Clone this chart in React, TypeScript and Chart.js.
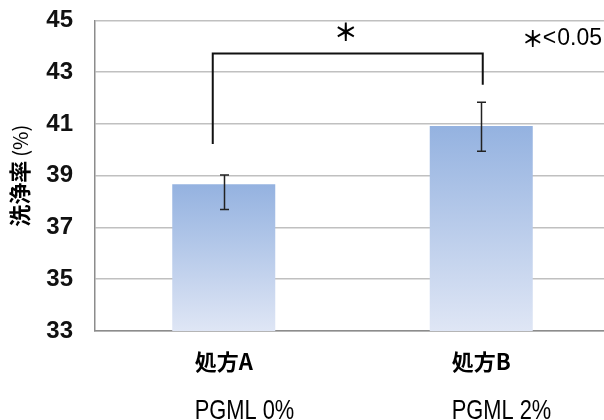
import React, { useEffect, useRef } from "react";
import { Chart, registerables } from "chart.js";

Chart.register(...registerables);

// ---- data ----
const categories = ["処方A", "処方B"];
const subLabels = ["PGML 0%", "PGML 2%"];
const values = [38.67, 40.92];
const errLow = [37.69, 39.94];
const errHigh = [39.03, 41.84];
const yMin = 33;
const yMax = 45;
const yStep = 2;
const axisTitle = "洗浄率";
const axisUnit = "(%)";
const sigMark = "＊";
const noteMark = "＊";
const noteOp = "<";
const noteValue = "0.05";
// bracket values (y-axis units)
const bracketTop = 43.72;
const bracketLeftBottom = 40.22;
const bracketRightBottom = 42.51;

const CJK = '"Noto Sans CJK JP", sans-serif';
const LAT = '"Liberation Sans", Arial, sans-serif';

const overlay = {
  id: "overlay",
  afterDatasetsDraw(chart: any) {
    const ctx = chart.ctx as CanvasRenderingContext2D;
    const xs = chart.scales.x;
    const ys = chart.scales.y;
    const area = chart.chartArea;
    ctx.save();
    // error bars
    ctx.strokeStyle = "#222";
    ctx.lineWidth = 1.5;
    values.forEach((_, i) => {
      const x = Math.round(xs.getPixelForValue(i)) + 0.5;
      const yt = ys.getPixelForValue(errHigh[i]);
      const yb = ys.getPixelForValue(errLow[i]);
      ctx.beginPath();
      ctx.moveTo(x, yt);
      ctx.lineTo(x, yb);
      ctx.moveTo(x - 4.5, yt);
      ctx.lineTo(x + 4.5, yt);
      ctx.moveTo(x - 4.5, yb);
      ctx.lineTo(x + 4.5, yb);
      ctx.stroke();
    });
    // bracket
    const xl = xs.getPixelForValue(0) - 11;
    const xr = xs.getPixelForValue(1) + 1.5;
    const yT = ys.getPixelForValue(bracketTop);
    ctx.strokeStyle = "#111";
    ctx.lineWidth = 2;
    ctx.beginPath();
    ctx.moveTo(xl, ys.getPixelForValue(bracketLeftBottom));
    ctx.lineTo(xl, yT);
    ctx.lineTo(xr, yT);
    ctx.lineTo(xr, ys.getPixelForValue(bracketRightBottom));
    ctx.stroke();
    // significance star
    ctx.fillStyle = "#000";
    ctx.font = `bold 24px ${CJK}`;
    ctx.textAlign = "center";
    ctx.textBaseline = "middle";
    ctx.fillText(sigMark, (xl + xr) / 2 - 2, yT - 22);
    // note: ＊<0.05 (right aligned, just above chart top)
    ctx.textAlign = "right";
    ctx.textBaseline = "alphabetic";
    let nx = 602;
    const nb = area.top + 25;
    ctx.font = `23px ${LAT}`;
    ctx.fillText(noteValue, nx, nb);
    nx -= ctx.measureText(noteValue).width + 1;
    ctx.fillText(noteOp, nx, nb);
    nx -= ctx.measureText(noteOp).width + 2;
    ctx.font = `bold 22px ${CJK}`;
    ctx.textBaseline = "middle";
    ctx.textAlign = "center";
    ctx.fillText(noteMark, nx - 8, area.top + 18);
    // y title
    ctx.save();
    ctx.translate(20, (area.top + area.bottom) / 2);
    ctx.rotate(-Math.PI / 2);
    ctx.textBaseline = "middle";
    ctx.font = `bold 22px ${CJK}`;
    const w1 = ctx.measureText(axisTitle).width;
    ctx.font = `20px ${CJK}`;
    const w2 = ctx.measureText(axisUnit).width;
    const gap = 4;
    const start = -(w1 + w2 + gap) / 2;
    ctx.textAlign = "left";
    ctx.font = `bold 22px ${CJK}`;
    ctx.fillText(axisTitle, start, 0);
    ctx.font = `20px ${CJK}`;
    ctx.fillText(axisUnit, start + w1 + gap, 0);
    ctx.restore();
    // x labels
    categories.forEach((c, i) => {
      const cx = xs.getPixelForValue(i);
      ctx.font = `bold 22px ${CJK}`;
      ctx.textAlign = "center";
      ctx.textBaseline = "middle";
      const cw = ctx.measureText(c).width;
      ctx.fillText(c, cx, area.bottom + 31);
      ctx.save();
      ctx.translate(cx - cw / 2, area.bottom + 88);
      ctx.scale(0.78, 1);
      ctx.font = `28px ${LAT}`;
      ctx.textAlign = "left";
      ctx.textBaseline = "alphabetic";
      ctx.fillText(subLabels[i], 0, 0);
      ctx.restore();
    });
    ctx.restore();
  },
};

export default function App() {
  const ref = useRef<HTMLCanvasElement>(null);
  useEffect(() => {
    if (!ref.current) return;
    const chart = new Chart(ref.current, {
      type: "bar",
      data: {
        labels: categories,
        datasets: [
          {
            data: values,
            backgroundColor: (c: any) => {
              const ch = c.chart;
              const area = ch.chartArea;
              if (!area || c.dataIndex === undefined || !ch.scales.y) return "#b0c4e8";
              const y = ch.scales.y.getPixelForValue(values[c.dataIndex]);
              const g = ch.ctx.createLinearGradient(0, y, 0, area.bottom);
              g.addColorStop(0, "#94B2E0");
              g.addColorStop(1, "#DFE6F5");
              return g;
            },
            borderWidth: 0,
            barPercentage: 0.4,
            categoryPercentage: 1,
          },
        ],
      },
      options: {
        animation: false,
        responsive: false,
        layout: { padding: { left: 0, top: 6, right: 10, bottom: 0 } },
        plugins: { legend: { display: false }, tooltip: { enabled: false } },
        scales: {
          x: {
            grid: { display: false },
            border: { display: true, color: "#8c8c8c", width: 1.5 },
            ticks: { display: false },
            afterFit: (s: any) => {
              s.height = 89;
            },
          },
          y: {
            min: yMin,
            max: yMax,
            ticks: {
              stepSize: yStep,
              color: "#111",
              font: { family: LAT, size: 24, weight: "bold" },
              padding: 22,
            },
            grid: { color: "#c0c0c0", lineWidth: 1.5, drawTicks: false },
            border: { display: true, color: "#8c8c8c", width: 1.5 },
            afterFit: (s: any) => {
              s.width = 95;
            },
          },
        },
      },
      plugins: [overlay],
    } as any);
    return () => chart.destroy();
  }, []);
  return (
    <div
      style={{
        position: "absolute",
        left: 0,
        top: 0,
        width: 604,
        height: 420,
        overflow: "hidden",
        background: "#fff",
      }}
    >
      <canvas
        ref={ref}
        width={620}
        height={436}
        style={{ display: "block", marginTop: -16 }}
      />
    </div>
  );
}
